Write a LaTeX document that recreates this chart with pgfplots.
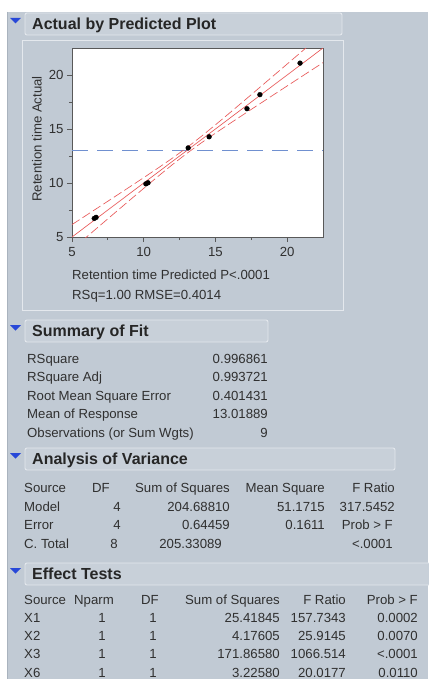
\documentclass[border=0pt]{standalone}
\usepackage{fontspec}
\setmainfont{Liberation Sans}
\usepackage{pgfplots}
\pgfplotsset{compat=1.18}
\definecolor{bg}{HTML}{C1CAD4}
\definecolor{hdfill}{HTML}{C8D0D9}
\definecolor{hdline}{HTML}{E4E8ED}
\definecolor{panelline}{HTML}{A9B3BE}
\definecolor{txt}{HTML}{303030}
\definecolor{tri}{HTML}{2848D8}
\definecolor{fitred}{HTML}{E85858}
\definecolor{meanblue}{HTML}{7090D0}
\newcommand{\bodyfont}{\fontsize{13.2}{15}\selectfont}
\newcommand{\headfont}{\fontsize{16}{18}\selectfont\bfseries}
% heading: right x, center y, text
\newcommand{\heading}[3]{%
  \draw[hdline, fill=hdfill, rounded corners=2pt, line width=0.9pt] (25,#2-11) rectangle (#1,#2+11);
  \fill[tri] (10,#2-6) -- (21,#2-6) -- (15.5,#2-0.5) -- cycle;
  \node[anchor=base west, inner sep=0pt, text=black!85] at (32,#2+5.8) {\headfont #3};
}
\newcommand{\lt}[3]{\node[anchor=base west, inner sep=0pt, text=txt] at (#1,#2+4.7) {\bodyfont #3};}
\newcommand{\rt}[3]{\node[anchor=base east, inner sep=0pt, text=txt] at (#1,#2+4.7) {\bodyfont #3};}
\begin{document}
\begin{tikzpicture}
\useasboundingbox (0pt,0pt) rectangle (428pt,-679pt);
\begin{scope}[x=1pt,y=-1pt]
\fill[white] (0,0) rectangle (428,679);
\fill[bg] (7,12) rectangle (428,679);
\draw[panelline, line width=0.8pt] (7.5,12) -- (7.5,679);
% panel around the plot
\draw[hdline, line width=0.9pt] (22,40) rectangle (343,310);
\heading{342}{24}{Actual by Predicted Plot}
\end{scope}
\begin{axis}[at={(72pt,-237pt)}, anchor=south west, scale only axis,
  width=251pt, height=189pt,
  xmin=5, xmax=22.5, ymin=5, ymax=22.5,
  xtick={5,10,15,20}, ytick={5,10,15,20},
  minor xtick={7.5,12.5,17.5}, minor ytick={7.5,12.5,17.5},
  tick align=outside, major tick length=5pt, minor tick length=3pt,
  xtick pos=lower, ytick pos=left,
  axis line style={draw=black!65, line width=0.9pt},
  every tick/.style={draw=black!65, line width=0.8pt},
  ticklabel style={font=\bodyfont, text=txt},
  xticklabel style={yshift=-2pt},
  /pgf/number format/assume math mode=true,
  axis background/.style={fill=white},
  clip=true]
\addplot[meanblue, line width=1pt, dash pattern=on 16pt off 9pt] coordinates {(5,13.019) (22.5,13.019)};
\addplot[fitred, line width=0.65pt] coordinates {(5,5) (22.5,22.5)};
\addplot[fitred, line width=0.65pt, dash pattern=on 9pt off 3.5pt] coordinates {
(5,6.150) (6,7.014) (7,7.880) (8,8.748) (9,9.619) (10,10.496) (11,11.385) (12,12.299) (13,13.265) (14,14.299) (15,15.385) (16,16.496) (17,17.619) (18,18.748) (19,19.880) (20,21.014) (21,22.150) (22,23.287) (22.5,23.855)};
\addplot[fitred, line width=0.65pt, dash pattern=on 9pt off 3.5pt] coordinates {
(5,3.850) (6,4.986) (7,6.120) (8,7.252) (9,8.381) (10,9.504) (11,10.615) (12,11.701) (13,12.735) (14,13.701) (15,14.615) (16,15.504) (17,16.381) (18,17.252) (19,18.120) (20,18.986) (21,19.850) (22,20.713) (22.5,21.145)};
\addplot[only marks, mark=*, mark size=2.4pt, black] coordinates {
(6.55,6.72) (6.68,6.82) (10.15,9.92) (10.3,10.02) (13.1,13.25) (14.56,14.28) (17.2,16.88) (18.1,18.18) (20.9,21.1)};
\end{axis}
\begin{scope}[x=1pt,y=-1pt]
\node[rotate=90, inner sep=0pt, text=txt] at (37,139) {\bodyfont Retention time Actual};
\lt{72}{275}{Retention time Predicted P<.0001}
\lt{72}{295}{RSq=1.00 RMSE=0.4014}
% Summary of fit
\heading{268}{331}{Summary of Fit}
\lt{27}{359}{RSquare} \rt{268}{359}{0.996861}
\lt{27}{377}{RSquare Adj} \rt{268}{377}{0.993721}
\lt{27}{396}{Root Mean Square Error} \rt{268}{396}{0.401431}
\lt{27}{414}{Mean of Response} \rt{268}{414}{13.01889}
\lt{27}{433}{Observations (or Sum Wgts)} \rt{268}{433}{9}
% ANOVA
\heading{395}{459}{Analysis of Variance}
\lt{24}{488}{Source} \rt{110}{488}{DF} \rt{230}{488}{Sum of Squares} \rt{325}{488}{Mean Square} \rt{395}{488}{F Ratio}
\lt{24}{507}{Model} \rt{121}{507}{4} \rt{230}{507}{204.68810} \rt{325}{507}{51.1715} \rt{395}{507}{317.5452}
\lt{24}{525}{Error} \rt{121}{525}{4} \rt{230}{525}{0.64459} \rt{325}{525}{0.1611} \rt{393}{525}{Prob > F}
\lt{24}{544}{C. Total} \rt{118}{544}{8} \rt{222}{544}{205.33089} \rt{393}{544}{<.0001}
% Effect tests
\heading{440}{574}{Effect Tests}
\lt{24}{600}{Source} \rt{114}{600}{Nparm} \rt{159}{600}{DF} \rt{280}{600}{Sum of Squares} \rt{346}{600}{F Ratio} \rt{418}{600}{Prob > F}
\lt{24}{618}{X1} \rt{106}{618}{1} \rt{157}{618}{1} \rt{280}{618}{25.41845} \rt{346}{618}{157.7343} \rt{418}{618}{0.0002}
\lt{24}{636}{X2} \rt{106}{636}{1} \rt{157}{636}{1} \rt{280}{636}{4.17605} \rt{346}{636}{25.9145} \rt{418}{636}{0.0070}
\lt{24}{654}{X3} \rt{106}{654}{1} \rt{157}{654}{1} \rt{280}{654}{171.86580} \rt{346}{654}{1066.514} \rt{418}{654}{<.0001}
\lt{24}{673}{X6} \rt{106}{673}{1} \rt{157}{673}{1} \rt{280}{673}{3.22580} \rt{346}{673}{20.0177} \rt{418}{673}{0.0110}
\end{scope}
\end{tikzpicture}
\end{document}
